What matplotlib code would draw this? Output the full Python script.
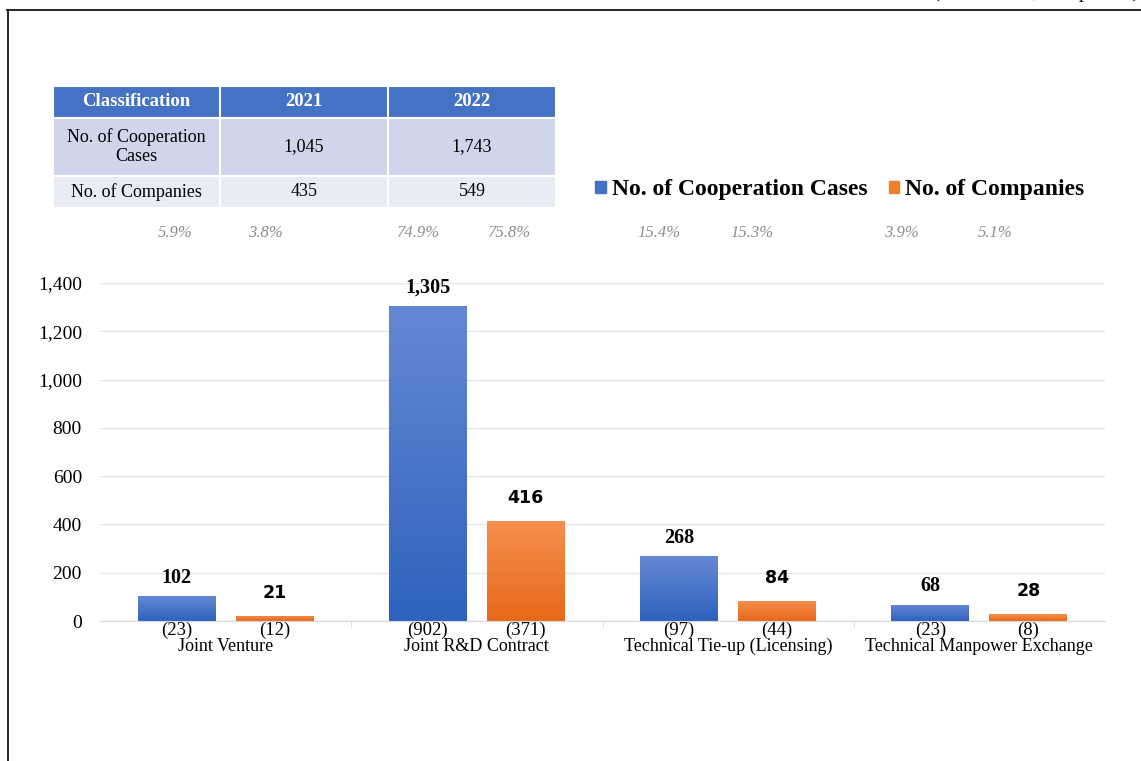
import numpy as np
import matplotlib
matplotlib.use("Agg")
import matplotlib.pyplot as plt
import matplotlib.transforms as mtransforms
from matplotlib.colors import LinearSegmentedColormap
from matplotlib.patches import Rectangle, Patch
from matplotlib.lines import Line2D
from matplotlib.ticker import FuncFormatter

# data
categories = ["Joint Venture", "Joint R&D Contract",
              "Technical Tie-up (Licensing)", "Technical Manpower Exchange"]
cases = [102, 1305, 268, 68]
companies = [21, 416, 84, 28]
cases_prev = [23, 902, 97, 23]
companies_prev = [12, 371, 44, 8]
cases_share = ["5.9%", "74.9%", "15.4%", "3.9%"]
companies_share = ["3.8%", "75.8%", "15.3%", "5.1%"]

table_header = ["Classification", "2021", "2022"]
table_rows = [["No. of Cooperation\nCases", "1,045", "1,743"],
              ["No. of Companies", "435", "549"]]

SERIF = "Liberation Serif"
W, H = 1141, 761

fig = plt.figure(figsize=(W / 100, H / 100), dpi=100)


def fx(px):
    return px / W


def fy(py):
    return 1 - py / H


# frame lines (left and top)
fig.add_artist(Line2D([fx(7.5), fx(7.5)], [fy(10), 0], color="black", lw=1.2))
fig.add_artist(Line2D([fx(7), 1], [fy(10), fy(10)], color="black", lw=1.2))
fig.text(fx(1139), fy(-3.5), "(Unit: cases, companies)", ha="right", va="baseline",
         family=SERIF, fontsize=15)

# main chart
ax = fig.add_axes([fx(100), fy(621), fx(1105) - fx(100), fy(283) - fy(621)])
x = np.arange(len(categories))
bw = 0.31
off = 0.195

b1 = ax.bar(x - off, cases, bw, color="#4472c4", zorder=2)
b2 = ax.bar(x + off, companies, bw, color="#f07f2a", zorder=2)


def shade(bars, c_top, c_bot):
    cmap = LinearSegmentedColormap.from_list("g", [c_bot, c_top])
    for p in bars:
        x0, y0 = p.get_x(), p.get_y()
        im = ax.imshow(np.linspace(0, 1, 256).reshape(-1, 1), cmap=cmap,
                       extent=[x0, x0 + p.get_width(), y0, y0 + p.get_height()],
                       origin="lower", aspect="auto", zorder=3)
        im.set_clip_path(p)


shade(b1, "#6688d4", "#2e62bd")
shade(b2, "#f6904f", "#e7681a")

ax.set_xlim(-0.5, 3.5)
ax.set_ylim(0, 1400)
ax.set_yticks(range(0, 1401, 200))
ax.yaxis.set_major_formatter(FuncFormatter(lambda v, p: f"{int(v):,}"))
ax.grid(axis="y", color="#e6e6e6", lw=1, zorder=0)
for s in ["top", "right", "left"]:
    ax.spines[s].set_visible(False)
ax.spines["bottom"].set_color("#d9d9d9")
ax.spines["bottom"].set_zorder(4)

ax.set_xticks(x)
ax.set_xticklabels(categories, family=SERIF, fontsize=13)
ax.set_xticks([0.5, 1.5, 2.5], minor=True)
ax.tick_params(axis="x", which="major", length=0, pad=12)
ax.tick_params(axis="x", which="minor", length=5, color="#d9d9d9")
ax.tick_params(axis="y", length=0, pad=13)
for t in ax.get_yticklabels():
    t.set_family(SERIF)
    t.set_fontsize(14)

# value labels
for p, v in zip(b1, cases):
    ax.annotate(f"{v:,}", (p.get_x() + p.get_width() / 2, v), xytext=(0, 6),
                textcoords="offset points", ha="center", va="bottom",
                family=SERIF, weight="bold", fontsize=14.5, zorder=5)
for p, v in zip(b2, companies):
    ax.annotate(f"{v:,}", (p.get_x() + p.get_width() / 2, v), xytext=(0, 10),
                textcoords="offset points", ha="center", va="bottom",
                family="DejaVu Sans", weight="bold", fontsize=12.5, zorder=5)

# previous-year counts under the bars
for xi, a, b in zip(x, cases_prev, companies_prev):
    for xx, v in [(xi - off, a), (xi + off, b)]:
        ax.annotate(f"({v})", (xx, 0), xycoords=("data", "axes fraction"),
                    xytext=(0, -0.5), textcoords="offset points",
                    ha="center", va="top", family=SERIF, fontsize=13.5)

# share percentages (row sits slightly narrower than the bar groups)
trans = mtransforms.blended_transform_factory(ax.transData, fig.transFigure)
for xi, a, b in zip(x, cases_share, companies_share):
    for xx, s in [(xi * 0.963 - 0.20, a), (xi * 0.968 + 0.16, b)]:
        ax.text(xx, fy(233), s, transform=trans, ha="center", va="center",
                family=SERIF, style="italic", fontsize=12, color="#8c8c8c")

# legend
handles = [Patch(color="#4472c4", label="No. of Cooperation Cases"),
           Patch(color="#f07f2a", label="No. of Companies")]
fig.legend(handles=handles, loc="center left", bbox_to_anchor=(fx(574), fy(190)),
           ncol=2, frameon=False, handlelength=0.45, handleheight=0.45,
           handletextpad=0.25, columnspacing=0.9,
           prop={"family": SERIF, "weight": "bold", "size": 17})

# table
tax = fig.add_axes([fx(53), fy(208), fx(556) - fx(53), fy(86) - fy(208)])
tax.set_xlim(0, 503)
tax.set_ylim(122, 0)
tax.axis("off")
col_x = [0, 167, 335, 503]
row_y = [0, 32, 90, 122]
row_col = ["#4472c4", "#cfd5ea", "#e9ebf5"]
rows = [table_header] + table_rows
for r in range(3):
    for c in range(3):
        tax.add_patch(Rectangle((col_x[c], row_y[r]), col_x[c + 1] - col_x[c],
                                row_y[r + 1] - row_y[r], facecolor=row_col[r],
                                edgecolor="white", lw=1.5))
        tax.text((col_x[c] + col_x[c + 1]) / 2, (row_y[r] + row_y[r + 1]) / 2,
                 rows[r][c], ha="center", va="center", family=SERIF,
                 fontsize=13.5 if r == 0 else 13, linespacing=1.15,
                 color="white" if r == 0 else "black",
                 weight="bold" if r == 0 else "normal")

fig.savefig("out.png", dpi=100)
